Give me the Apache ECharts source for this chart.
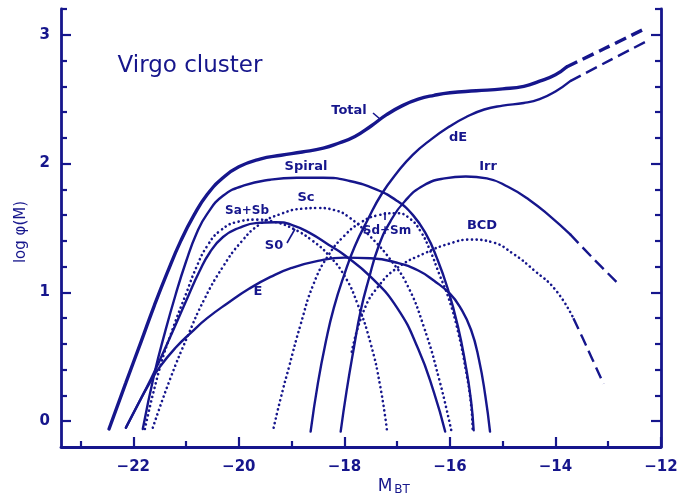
<!DOCTYPE html>
<html>
<head>
<meta charset="utf-8">
<script src="https://cdn.jsdelivr.net/npm/echarts@6/dist/echarts.min.js"></script>
<style>
  html, body { margin: 0; padding: 0; background: #fff; }
  #chart { width: 678px; height: 499px; }
</style>
</head>
<body>
<div id="chart"></div>
<script>
// Luminosity functions of the Virgo cluster by morphological type
// x: absolute magnitude M_BT, y: log phi(M)

const xMajorTicks = [-22, -20, -18, -16, -14, -12];
const xMinorTicks = [-23, -21, -19, -17, -15, -13];
const yMajorTicks = [0, 1, 2, 3];
const yMinorTicks = [0.2, 0.4, 0.6, 0.8, 1.2, 1.4, 1.6, 1.8, 2.2, 2.4, 2.6, 2.8, 3.2];

const total = [[-22.46,-0.06],[-22.14,0.30],[-21.85,0.62],[-21.6,0.90],[-21.36,1.15],[-21.1,1.40],
  [-20.85,1.60],[-20.6,1.76],[-20.3,1.89],[-20.0,1.975],[-19.6,2.035],[-19.2,2.065],[-18.8,2.09],
  [-18.4,2.12],[-18.1,2.16],[-17.8,2.21],[-17.5,2.29],[-17.2,2.38],[-16.9,2.45],[-16.6,2.50],
  [-16.3,2.53],[-16.0,2.55],[-15.5,2.565],[-15.0,2.58],[-14.6,2.60],[-14.3,2.64],[-14.0,2.69],[-13.79,2.75]];
const totalExt = [[-13.79,2.75],[-13.06,2.895],[-12.34,3.04]];

const spiral = [[-21.82,-0.06],[-21.6,0.37],[-21.4,0.69],[-21.2,0.98],[-21.0,1.24],[-20.8,1.46],
  [-20.6,1.61],[-20.3,1.75],[-19.9,1.83],[-19.4,1.875],[-18.9,1.89],[-18.4,1.89],[-17.9,1.865],
  [-17.4,1.80],[-17.0,1.71],[-16.7,1.60],[-16.45,1.45],[-16.25,1.27],[-16.05,1.04],[-15.85,0.74],
  [-15.7,0.43],[-15.6,0.16],[-15.55,-0.07]];

const s0 = [[-22.14,-0.05],[-21.85,0.18],[-21.57,0.41],[-21.25,0.70],[-20.95,0.98],[-20.75,1.16],
  [-20.55,1.31],[-20.3,1.43],[-20.0,1.50],[-19.65,1.54],[-19.3,1.545],[-19.0,1.525],[-18.65,1.46],
  [-18.3,1.37],[-18.0,1.29],[-17.5,1.12],[-17.0,0.88],[-16.6,0.56],[-16.3,0.22],[-16.09,-0.08]];

const ell = [[-22.14,-0.05],[-21.9,0.14],[-21.7,0.29],[-21.5,0.42],[-21.2,0.57],[-20.9,0.69],
  [-20.6,0.80],[-20.2,0.92],[-19.8,1.03],[-19.4,1.12],[-19.0,1.19],[-18.5,1.245],[-18.0,1.27],
  [-17.5,1.265],[-17.0,1.23],[-16.6,1.17],[-16.3,1.09],[-16.0,0.99],[-15.8,0.88],[-15.6,0.71],
  [-15.45,0.48],[-15.33,0.20],[-15.24,-0.08]];

const saSb = [[-21.78,-0.06],[-21.5,0.41],[-21.25,0.72],[-21.0,0.99],[-20.8,1.20],[-20.6,1.36],
  [-20.35,1.48],[-20.0,1.55],[-19.65,1.565],[-19.3,1.545],[-18.95,1.49],[-18.6,1.40],[-18.3,1.29],
  [-18.0,1.13],[-17.75,0.91],[-17.5,0.60],[-17.32,0.27],[-17.19,-0.08]];

const sc = [[-21.63,-0.05],[-21.3,0.33],[-20.97,0.66],[-20.65,0.95],[-20.3,1.20],[-19.96,1.39],
  [-19.6,1.53],[-19.2,1.61],[-18.8,1.65],[-18.5,1.655],[-18.2,1.64],[-17.9,1.58],[-17.5,1.43],
  [-17.1,1.24],[-16.8,1.05],[-16.5,0.74],[-16.2,0.32],[-15.97,-0.08]];

const sdSm = [[-19.34,-0.05],[-19.2,0.19],[-19.05,0.42],[-18.83,0.75],[-18.58,1.07],[-18.3,1.29],
  [-18.0,1.44],[-17.7,1.54],[-17.35,1.60],[-17.0,1.615],[-16.75,1.57],[-16.55,1.47],[-16.38,1.33],
  [-16.2,1.14],[-16.02,0.95],[-15.85,0.70],[-15.7,0.40],[-15.6,0.13],[-15.57,-0.06]];

const dE = [[-18.64,-0.08],[-18.5,0.30],[-18.35,0.62],[-18.2,0.88],[-18.0,1.14],[-17.8,1.36],
  [-17.55,1.57],[-17.3,1.76],[-17.0,1.93],[-16.7,2.07],[-16.35,2.19],[-16.0,2.29],[-15.7,2.36],
  [-15.35,2.42],[-15.0,2.45],[-14.6,2.47],[-14.3,2.50],[-14.0,2.56],[-13.72,2.64]];
const dEExt = [[-13.72,2.64],[-13.0,2.795],[-12.27,2.95]];

const irr = [[-18.07,-0.08],[-17.96,0.23],[-17.82,0.57],[-17.69,0.86],[-17.54,1.10],[-17.35,1.36],
  [-17.13,1.55],[-16.85,1.71],[-16.5,1.83],[-16.1,1.885],[-15.7,1.90],[-15.3,1.885],[-14.9,1.82],
  [-14.5,1.72],[-14.1,1.59],[-13.72,1.45]];
const irrExt = [[-13.72,1.45],[-13.3,1.27],[-12.84,1.08]];

const bcd = [[-17.86,0.54],[-17.63,0.86],[-17.35,1.05],[-17.0,1.19],[-16.5,1.30],[-16.0,1.38],
  [-15.6,1.41],[-15.2,1.39],[-14.8,1.30],[-14.4,1.17],[-14.0,1.02],[-13.66,0.80]];
const bcdExt = [[-13.66,0.80],[-13.41,0.58],[-13.09,0.29]];

const INK = '#16168c';
const FONT = '"DejaVu Sans", "Open Sans", sans-serif';

function solid(name, data, width) {
  return { name, type: 'line', data, smooth: 0.5, showSymbol: false, silent: true,
    lineStyle: { color: INK, width: width || 2.4, cap: 'round', join: 'round' }, z: 3 };
}
function dotted(name, data) {
  return { name, type: 'line', data, smooth: 0.5, showSymbol: false, silent: true,
    lineStyle: { color: INK, width: 2.6, type: [0.1, 4.6], cap: 'round' }, z: 2 };
}
function dashed(name, data, width) {
  return { name, type: 'line', data, smooth: 0.4, showSymbol: false, silent: true,
    lineStyle: { color: INK, width: width || 2.4, type: [12, 6] }, z: 3 };
}

function tickAxis(pos, extra) {
  return Object.assign({
    type: 'value', position: pos,
    splitLine: { show: false },
    axisLine: { show: false, onZero: false },
    axisLabel: { show: false }
  }, extra);
}

const minusFmt = v => (v < 0 ? '\u2212' : '') + Math.abs(v);

// text placed on the canvas; font given as a full CSS font string
function label(text, x, y, font, opts) {
  return Object.assign({ type: 'text', x, y, z: 10,
    style: { text, fill: INK, font: font || ('bold 13px ' + FONT), align: 'center', verticalAlign: 'middle' } }, opts || {});
}
function stroke(x1, y1, x2, y2) {
  return { type: 'line', z: 10, shape: { x1, y1, x2, y2 }, style: { stroke: INK, lineWidth: 1.6 } };
}

const chart = echarts.init(document.getElementById('chart'), null, { renderer: 'canvas' });

chart.setOption({
  animation: false,
  backgroundColor: '#fff',
  grid: { left: 61, right: 17, top: 9, bottom: 52, outerBoundsMode: 'none' },
  xAxis: [
    tickAxis('bottom', {
      min: -23.37, max: -12,
      axisLine: { show: true, onZero: false, lineStyle: { color: INK, width: 2.8 } },
      axisTick: { show: true, inside: true, length: 10, customValues: xMajorTicks, lineStyle: { color: INK, width: 2.2 } },
      axisLabel: { show: true, customValues: xMajorTicks, formatter: minusFmt, color: INK,
        fontFamily: FONT, fontSize: 15, fontWeight: 'bold', margin: 13 }
    }),
    tickAxis('bottom', {
      min: -23.37, max: -12,
      axisTick: { show: true, inside: true, length: 6, customValues: xMinorTicks, lineStyle: { color: INK, width: 2.2 } }
    })
  ],
  yAxis: [
    tickAxis('left', {
      min: -0.2, max: 3.2,
      axisLine: { show: true, onZero: false, lineStyle: { color: INK, width: 2.8 } },
      axisTick: { show: true, inside: true, length: 10, customValues: yMajorTicks, lineStyle: { color: INK, width: 2.2 } },
      axisLabel: { show: true, customValues: yMajorTicks, color: INK, fontFamily: FONT, fontSize: 15, fontWeight: 'bold', margin: 11 }
    }),
    tickAxis('left', {
      min: -0.2, max: 3.2,
      axisTick: { show: true, inside: true, length: 6, customValues: yMinorTicks, lineStyle: { color: INK, width: 2.2 } }
    }),
    tickAxis('right', {
      min: -0.2, max: 3.2,
      axisLine: { show: true, onZero: false, lineStyle: { color: INK, width: 2.8 } },
      axisTick: { show: true, inside: true, length: 10, customValues: yMajorTicks, lineStyle: { color: INK, width: 2.2 } }
    }),
    tickAxis('right', {
      min: -0.2, max: 3.2,
      axisTick: { show: true, inside: true, length: 6, customValues: yMinorTicks, lineStyle: { color: INK, width: 2.2 } }
    })
  ],
  series: [
    dotted('Sa+Sb', saSb),
    dotted('Sc', sc),
    dotted('Sd+Sm', sdSm),
    dotted('BCD', bcd),
    dashed('BCD ext', bcdExt),
    solid('E', ell),
    solid('S0', s0),
    solid('Spiral', spiral),
    solid('dE', dE),
    dashed('dE ext', dEExt),
    solid('Irr', irr),
    dashed('Irr ext', irrExt),
    solid('Total', total, 3.4),
    dashed('Total ext', totalExt, 3.4)
  ],
  graphic: [
    label('Virgo cluster', 190, 66, '23px ' + FONT),
    label('Total', 349, 111),
    stroke(373, 113, 380, 119),
    label('Spiral', 306, 167),
    label('Sc', 306, 198),
    label('Sa+Sb', 247, 211, 'bold 12px ' + FONT),
    label('S0', 274, 246),
    stroke(287, 243, 295, 229),
    label('E', 258, 292),
    label('dE', 458, 138),
    label('Irr', 488, 167),
    label('Sd+Sm', 387, 231, 'bold 12px ' + FONT),
    stroke(385, 212, 385, 220),
    label('BCD', 482, 226),
    label('log \u03c6(M)', 21, 232, '15px ' + FONT, { rotation: Math.PI / 2 }),
    label('M', 385, 487, '17px ' + FONT),
    label('BT', 402, 490, '12px ' + FONT)
  ]
});
</script>
</body>
</html>
